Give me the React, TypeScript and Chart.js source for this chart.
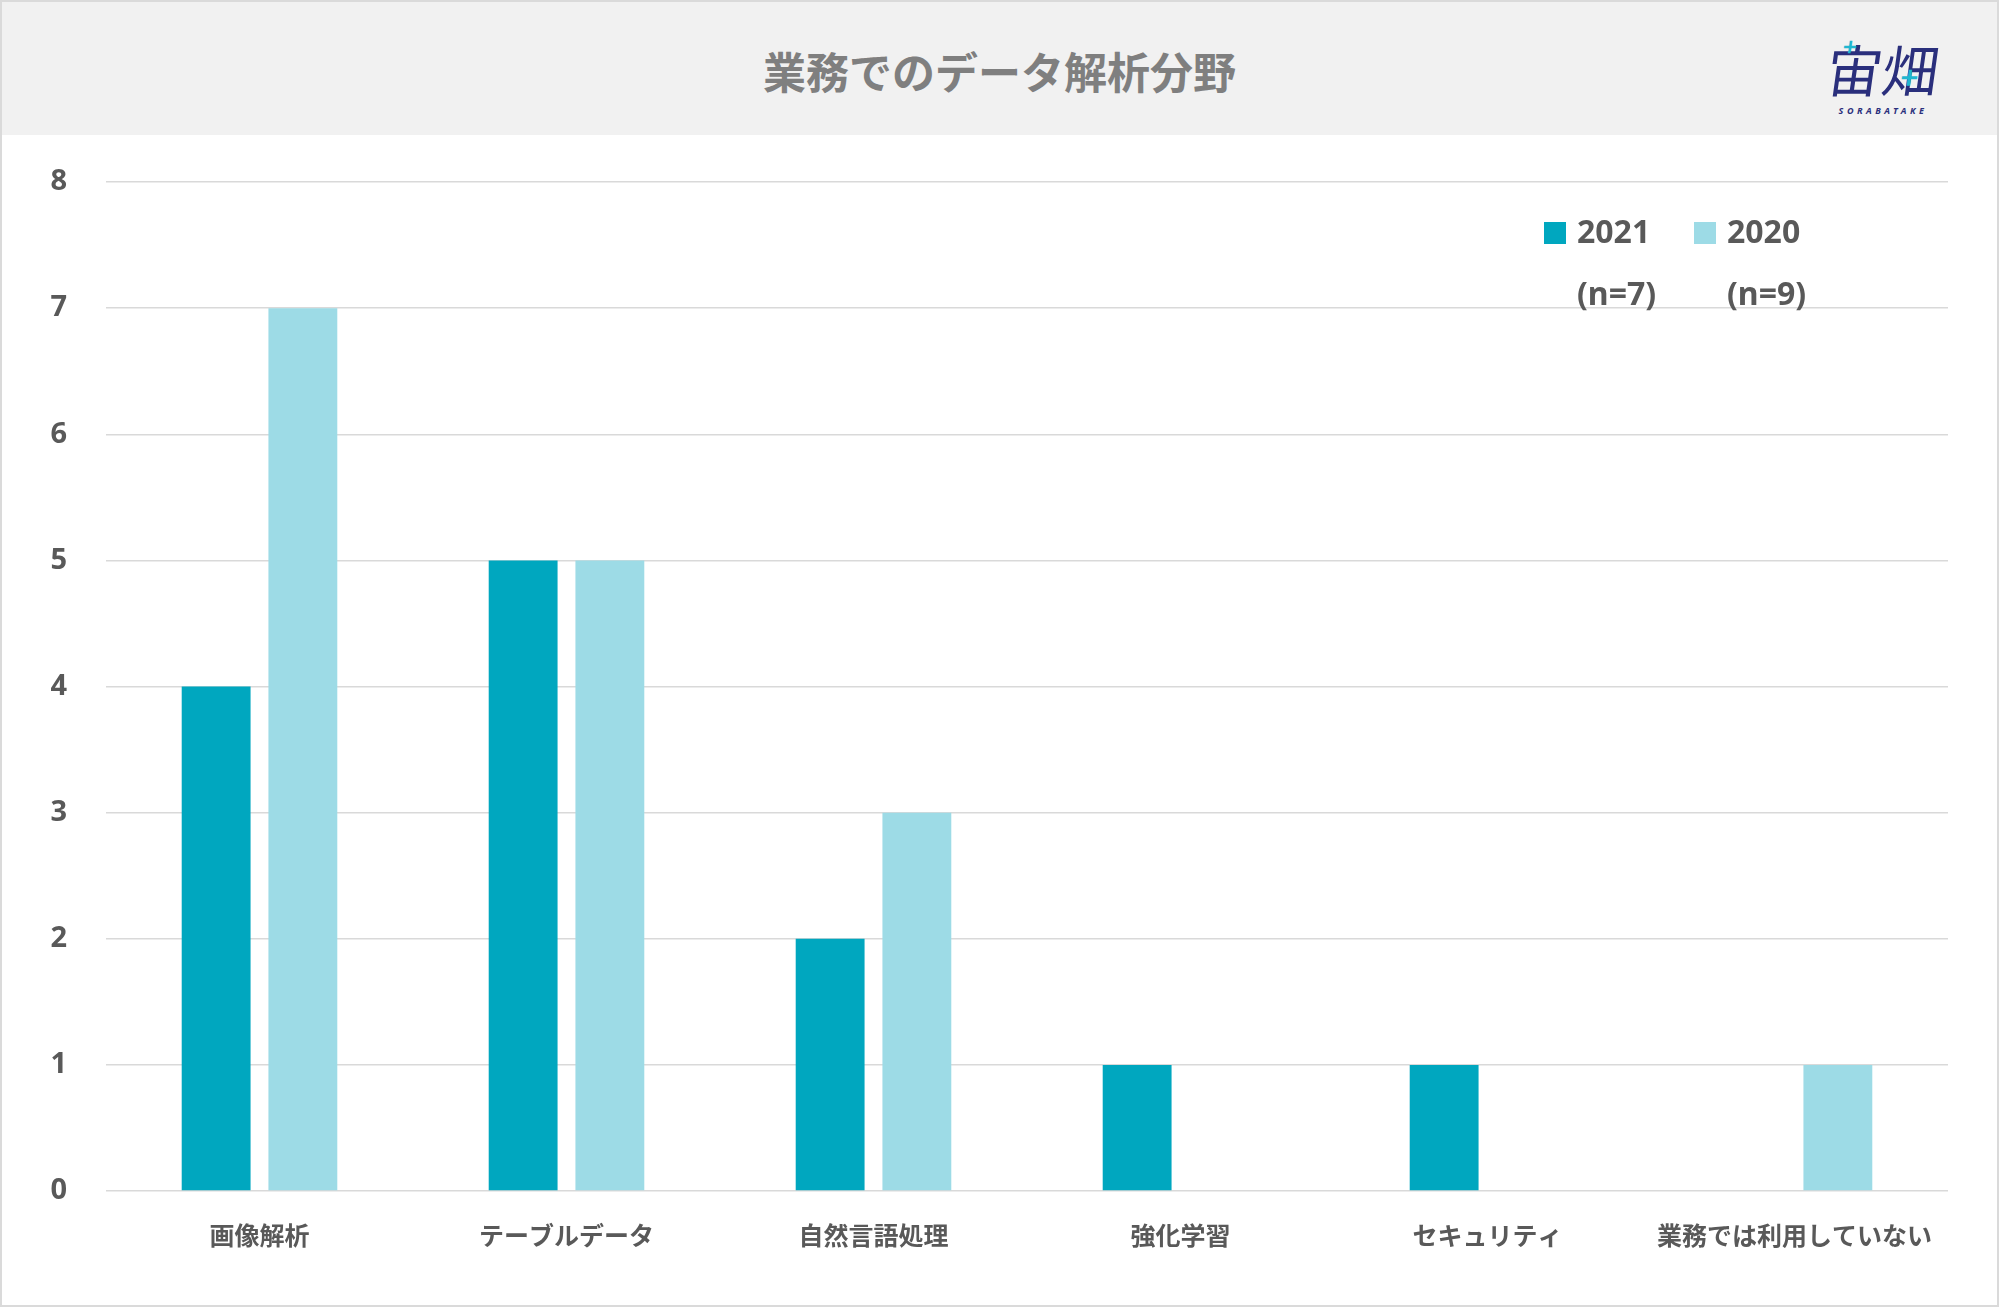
import React, { useEffect, useRef } from "react";
import { Chart, registerables } from "chart.js";

Chart.register(...registerables);

const categories = [
  "画像解析",
  "テーブルデータ",
  "自然言語処理",
  "強化学習",
  "セキュリティ",
  "業務では利用していない",
];
const series2021 = [4, 5, 2, 1, 1, 0];
const series2020 = [7, 5, 3, 0, 0, 1];
const seriesNames = ["2021", "2020"];
const seriesNotes = ["(n=7)", "(n=9)"];
const seriesColors = ["#00a7bf", "#9ddbe6"];
const yTicks = [0, 1, 2, 3, 4, 5, 6, 7, 8];

const W = 1999;
const H = 1307;

// legend with a second line under each label
const noteLegend = {
  id: "noteLegend",
  afterDraw(chart: any) {
    const { ctx, chartArea } = chart;
    ctx.save();
    const x0 = chartArea.right - 404;
    const step = 150;
    const y1 = 233;
    const y2 = 296;
    chart.data.datasets.forEach((ds: any, i: number) => {
      const x = x0 + i * step;
      ctx.fillStyle = ds.backgroundColor;
      ctx.fillRect(x, y1 - 11, 22, 22);
      ctx.fillStyle = "#595959";
      ctx.font = "bold 32px 'Noto Sans', 'Noto Sans CJK JP'";
      ctx.textBaseline = "middle";
      ctx.textAlign = "left";
      ctx.fillText(ds.label, x + 33, y1 + 1);
      ctx.fillText(seriesNotes[i], x + 33, y2);
    });
    ctx.restore();
  },
};

const BarChart: React.FC = () => {
  const chartRef = useRef<HTMLCanvasElement | null>(null);
  const chartInstance = useRef<Chart | null>(null);

  useEffect(() => {
    if (!chartRef.current) return;
    if (chartInstance.current) chartInstance.current.destroy();
    const ctx = chartRef.current.getContext("2d");
    if (!ctx) return;

    chartInstance.current = new Chart(ctx, {
      type: "bar",
      data: {
        labels: categories,
        datasets: [
          {
            label: seriesNames[0],
            data: series2021,
            backgroundColor: seriesColors[0],
            categoryPercentage: 0.565,
            barPercentage: 0.794,
          },
          {
            label: seriesNames[1],
            data: series2020,
            backgroundColor: seriesColors[1],
            categoryPercentage: 0.565,
            barPercentage: 0.794,
          },
        ],
      },
      options: {
        animation: false,
        responsive: false,
        maintainAspectRatio: false,
        layout: { padding: { top: 182, right: 51, bottom: 0, left: 0 } },
        plugins: {
          legend: { display: false },
          tooltip: { enabled: false },
        },
        scales: {
          x: {
            grid: { display: false },
            border: { display: false },
            ticks: {
              color: "#595959",
              padding: 21,
              maxRotation: 0,
              autoSkip: false,
              font: { family: "'Noto Sans CJK JP'", size: 25, weight: "bold" },
            },
            afterFit: (s: any) => {
              s.height = 116;
            },
          },
          y: {
            min: 0,
            max: 8,
            afterBuildTicks: (s: any) => {
              s.ticks = yTicks.map((v) => ({ value: v }));
            },
            grid: { color: "#d9d9d9", lineWidth: 1.5, drawTicks: false },
            border: { display: false },
            ticks: {
              color: "#595959",
              padding: 39,
              font: { family: "'Noto Sans'", size: 29, weight: "bold" },
            },
            afterFit: (s: any) => {
              s.width = 106;
            },
          },
        },
      },
      plugins: [noteLegend],
    });

    return () => {
      if (chartInstance.current) chartInstance.current.destroy();
    };
  }, []);

  return (
    <canvas
      ref={chartRef}
      width={W}
      height={H}
      style={{ position: "absolute", left: 0, top: 0, width: W, height: H }}
    />
  );
};

export default function App() {
  return (
    <div
      style={{
        position: "absolute",
        left: 0,
        top: 0,
        width: W,
        height: H,
        background: "#ffffff",
        overflow: "hidden",
        fontFamily: "'Noto Sans', 'Noto Sans CJK JP', sans-serif",
      }}
    >
      <div
        style={{
          position: "absolute",
          left: 0,
          top: 0,
          width: W,
          height: 135,
          background: "#f1f1f1",
        }}
      />
      <div
        style={{
          position: "absolute",
          left: 0,
          top: 0,
          width: W,
          height: 140,
          lineHeight: "140px",
          textAlign: "center",
          fontFamily: "'Noto Sans CJK JP'",
          fontWeight: 700,
          fontSize: 43,
          color: "#7f7f7f",
        }}
      >
        業務でのデータ解析分野
      </div>
      <div style={{ position: "absolute", left: 1818, top: 30, width: 130, textAlign: "center" }}>
        <div
          style={{
            fontFamily: "'Noto Sans CJK JP'",
            fontSize: 56,
            lineHeight: "76px",
            color: "#2a2f7c",
            transform: "skewX(-8deg)",
            position: "relative",
          }}
        >
          宙畑
          <span style={{ position: "absolute", left: 22, top: -22, fontSize: 24, color: "#1fb7d0", fontWeight: 700 }}>
            +
          </span>
          <span style={{ position: "absolute", left: 84, top: 8, fontSize: 30, color: "#1fb7d0", fontWeight: 700 }}>
            +
          </span>
        </div>
        <div
          style={{
            fontSize: 9,
            fontWeight: 700,
            letterSpacing: 3.5,
            color: "#2a2f7c",
            fontStyle: "italic",
            marginTop: -2,
          }}
        >
          SORABATAKE
        </div>
      </div>
      <BarChart />
      <div
        style={{
          position: "absolute",
          left: 0,
          top: 0,
          width: W,
          height: H,
          boxSizing: "border-box",
          border: "2px solid #dadada",
          pointerEvents: "none",
        }}
      />
    </div>
  );
}
